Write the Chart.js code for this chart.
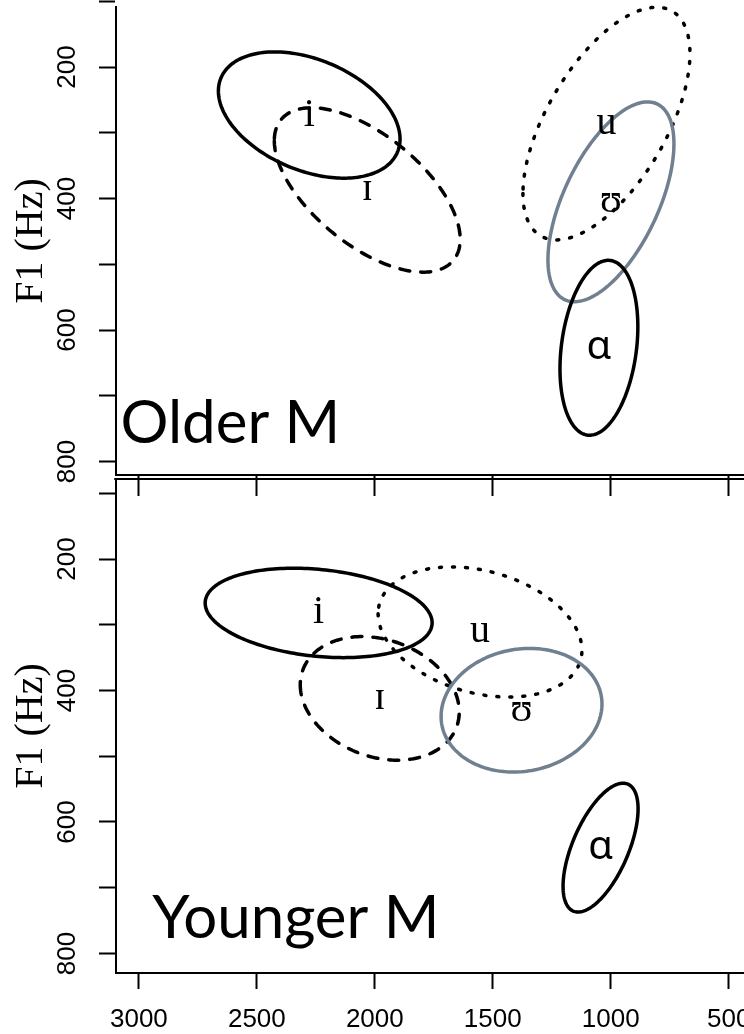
<!DOCTYPE html>
<html>
<head>
<meta charset="utf-8">
<script src="https://cdn.jsdelivr.net/npm/chart.js@4.4.1/dist/chart.umd.min.js"></script>
<style>
  body { margin: 0; background: #fff; }
  canvas { position: absolute; left: 0; top: 0; }
</style>
</head>
<body>
<canvas id="younger" width="744" height="1034"></canvas>
<canvas id="older" width="744" height="1034"></canvas>
<script>
// vowel categories
const vowels = ['i', 'ɪ', 'u', 'ʊ', 'ɑ'];

// Older M: ellipse centre (Hz), half-extent (Hz) and F2/F1 correlation
const olderF2 = [2278, 2032, 1018, 999, 1050];
const olderF1 = [273, 387, 286, 405, 627];
const olderSpreadF2 = [385, 394, 354, 267, 165];
const olderSpreadF1 = [96, 125, 177, 152, 133];
const olderCorr = [-0.38, -0.6, 0.6, 0.58, 0.24];

// Younger M
const youngerF2 = [2238, 1979, 1554, 1378, 1043];
const youngerF1 = [282, 412, 311, 430, 639];
const youngerSpreadF2 = [481, 337, 432, 341, 159];
const youngerSpreadF1 = [68, 94, 99, 94, 98];
const youngerCorr = [-0.22, -0.22, -0.28, 0.1, 0.6];

// axis ticks
const xTicks = [3000, 2500, 2000, 1500, 1000, 500];
const yTicks = [100, 200, 300, 400, 500, 600, 700, 800];
const yLabels = [200, 400, 600, 800];

const serif = '40px "Liberation Serif", "Times New Roman", serif';
const vowelStyle = {
  'i': { color: '#000', dash: [], font: serif },
  'ɪ': { color: '#000', dash: [10, 11], font: serif },
  'u': { color: '#000', dash: [2, 11], font: serif },
  'ʊ': { color: '#708090', dash: [], font: serif },
  'ɑ': { color: '#000', dash: [], font: '40px "Noto Sans", sans-serif' }
};

const panels = {
  older: {
    name: 'Older M', f2: olderF2, f1: olderF1, sF2: olderSpreadF2, sF1: olderSpreadF1, corr: olderCorr,
    yMin: 108.7, yMax: 820.5, padding: { top: 7, bottom: 538, left: 0, right: 0 },
    xHeight: 21, tickLabels: false, topBorder: false, nameAt: [3078, 772]
  },
  younger: {
    name: 'Younger M', f2: youngerF2, f1: youngerF1, sF2: youngerSpreadF2, sF1: youngerSpreadF1, corr: youngerCorr,
    yMin: 78.3, yMax: 829.7, padding: { top: 479, bottom: 0, left: 0, right: 0 },
    xHeight: 61, tickLabels: true, topBorder: true, nameAt: [2943, 776]
  }
};

function vowelPlugin(p) {
  return {
    id: 'vowels',
    afterDatasetsDraw(chart) {
      const { ctx, chartArea, scales: { x, y } } = chart;
      ctx.save();
      // ellipses
      p.f2.forEach((cx, i) => {
        const st = vowelStyle[vowels[i]];
        const cy = p.f1[i], r = p.corr[i], q = Math.sqrt(1 - r * r);
        ctx.beginPath();
        for (let k = 0; k <= 200; k++) {
          const t = k / 200 * 2 * Math.PI;
          const px = x.getPixelForValue(cx + p.sF2[i] * Math.cos(t));
          const py = y.getPixelForValue(cy + p.sF1[i] * (r * Math.cos(t) + q * Math.sin(t)));
          if (k === 0) ctx.moveTo(px, py); else ctx.lineTo(px, py);
        }
        ctx.closePath();
        ctx.lineWidth = 3.5;
        ctx.lineCap = 'round';
        ctx.strokeStyle = st.color;
        ctx.setLineDash(st.dash);
        ctx.stroke();
      });
      ctx.setLineDash([]);
      // vowel labels
      ctx.fillStyle = '#000';
      ctx.textAlign = 'center';
      ctx.textBaseline = 'middle';
      p.f2.forEach((cx, i) => {
        ctx.font = vowelStyle[vowels[i]].font;
        ctx.fillText(vowels[i], x.getPixelForValue(cx), y.getPixelForValue(p.f1[i]));
      });
      // rotated y tick labels
      ctx.font = '26px "Liberation Sans", Arial, sans-serif';
      yLabels.forEach(v => {
        ctx.save();
        ctx.translate(68, y.getPixelForValue(v));
        ctx.rotate(-Math.PI / 2);
        ctx.fillText(String(v), 0, 0);
        ctx.restore();
      });
      // panel name
      ctx.font = '60px Lato, "Open Sans", sans-serif';
      ctx.textAlign = 'left';
      ctx.textBaseline = 'alphabetic';
      ctx.fillText(p.name, x.getPixelForValue(p.nameAt[0]), y.getPixelForValue(p.nameAt[1]));
      // box top
      if (p.topBorder) {
        ctx.strokeStyle = '#000';
        ctx.lineWidth = 2;
        ctx.beginPath();
        ctx.moveTo(chartArea.left - 1, chartArea.top);
        ctx.lineTo(chartArea.right, chartArea.top);
        ctx.stroke();
      }
      ctx.restore();
    }
  };
}

function makeChart(id, p) {
  return new Chart(document.getElementById(id), {
    type: 'scatter',
    data: {
      datasets: [{ data: p.f2.map((v, i) => ({ x: v, y: p.f1[i] })), pointRadius: 0 }]
    },
    options: {
      responsive: false,
      animation: false,
      layout: { padding: p.padding },
      plugins: { legend: { display: false }, tooltip: { enabled: false } },
      scales: {
        x: {
          type: 'linear', reverse: true, min: 435, max: 3097,
          afterBuildTicks: s => { s.ticks = xTicks.map(v => ({ value: v })); },
          afterFit: s => { s.height = p.xHeight; s.paddingLeft = 0; s.paddingRight = 0; },
          ticks: {
            display: p.tickLabels, autoSkip: false, maxRotation: 0, padding: 15,
            callback: v => String(v),
            color: '#000', font: { family: '"Liberation Sans", Arial, sans-serif', size: 26, weight: 'normal' }
          },
          grid: { drawOnChartArea: false, tickLength: p.tickLabels ? 16 : 21, tickColor: '#000', tickWidth: 2 },
          border: { display: true, color: '#000', width: 2 }
        },
        y: {
          type: 'linear', reverse: true, min: p.yMin, max: p.yMax,
          afterBuildTicks: s => { s.ticks = yTicks.map(v => ({ value: v })); },
          afterFit: s => { s.width = 116; s.paddingTop = 0; s.paddingBottom = 0; },
          ticks: { display: false },
          grid: { drawOnChartArea: false, tickLength: 17, tickColor: '#000', tickWidth: 2 },
          border: { display: true, color: '#000', width: 2 },
          title: {
            display: true, text: 'F1 (Hz)', color: '#000', padding: { top: 7, bottom: 0 },
            font: { family: '"Liberation Serif", "Times New Roman", serif', size: 40, weight: 'normal' }
          }
        }
      }
    },
    plugins: [vowelPlugin(p)]
  });
}

makeChart('younger', panels.younger);
makeChart('older', panels.older);
</script>
</body>
</html>
